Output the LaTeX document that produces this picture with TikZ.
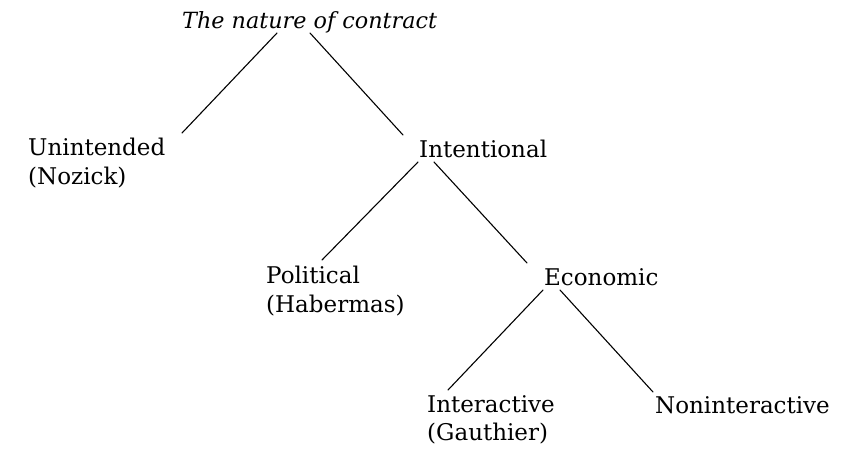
\documentclass[tikz,border=0pt]{standalone}
\usepackage{fontspec}
\setmainfont{DejaVu Serif}
\usepackage{tikz}
\usetikzlibrary{calc,positioning}

\begin{document}
\begin{tikzpicture}[x=1pt,y=-1pt]
\tikzset{lbl/.style={inner sep=0pt,anchor=base west,font=\fontsize{23}{28}\selectfont},
  branch/.style={line width=1.1pt,line cap=round}}
\useasboundingbox (0,0) rectangle (845,450);
\node[lbl,font=\fontsize{22.3}{28}\selectfont\itshape] (root) at (182,28) {The nature of contract};
\node[lbl] (unint) at (28,155) {Unintended};
\node[lbl] (nozick) at ($(unint.base west)+(0,29)$) {(Nozick)};
\node[lbl] (intent) at (419,157) {Intentional};
\node[lbl] (polit) at (266,283) {Political};
\node[lbl] (haber) at ($(polit.base west)+(0,29)$) {(Habermas)};
\node[lbl] (econ) at (544,285) {Economic};
\node[lbl] (inter) at (427,412) {Interactive};
\node[lbl] (gauth) at ($(inter.base west)+(0,28)$) {(Gauthier)};
\node[lbl] (nonint) at (655,413) {Noninteractive};
\draw[branch] ($(root.base west)+(95,5)$) -- ($(unint.base west)+(154,-22)$);
\draw[branch] ($(root.base west)+(128,5)$) -- ($(intent.base west)+(-16,-22)$);
\draw[branch] ($(intent.base west)+(-1,5)$) -- ($(polit.base west)+(56,-23)$);
\draw[branch] ($(intent.base west)+(15,5)$) -- ($(econ.base west)+(-17,-22)$);
\draw[branch] ($(econ.base west)+(-1,5)$) -- ($(inter.base west)+(21,-22)$);
\draw[branch] ($(econ.base west)+(16,5)$) -- ($(nonint.base west)+(-2,-21)$);
\end{tikzpicture}
\end{document}
